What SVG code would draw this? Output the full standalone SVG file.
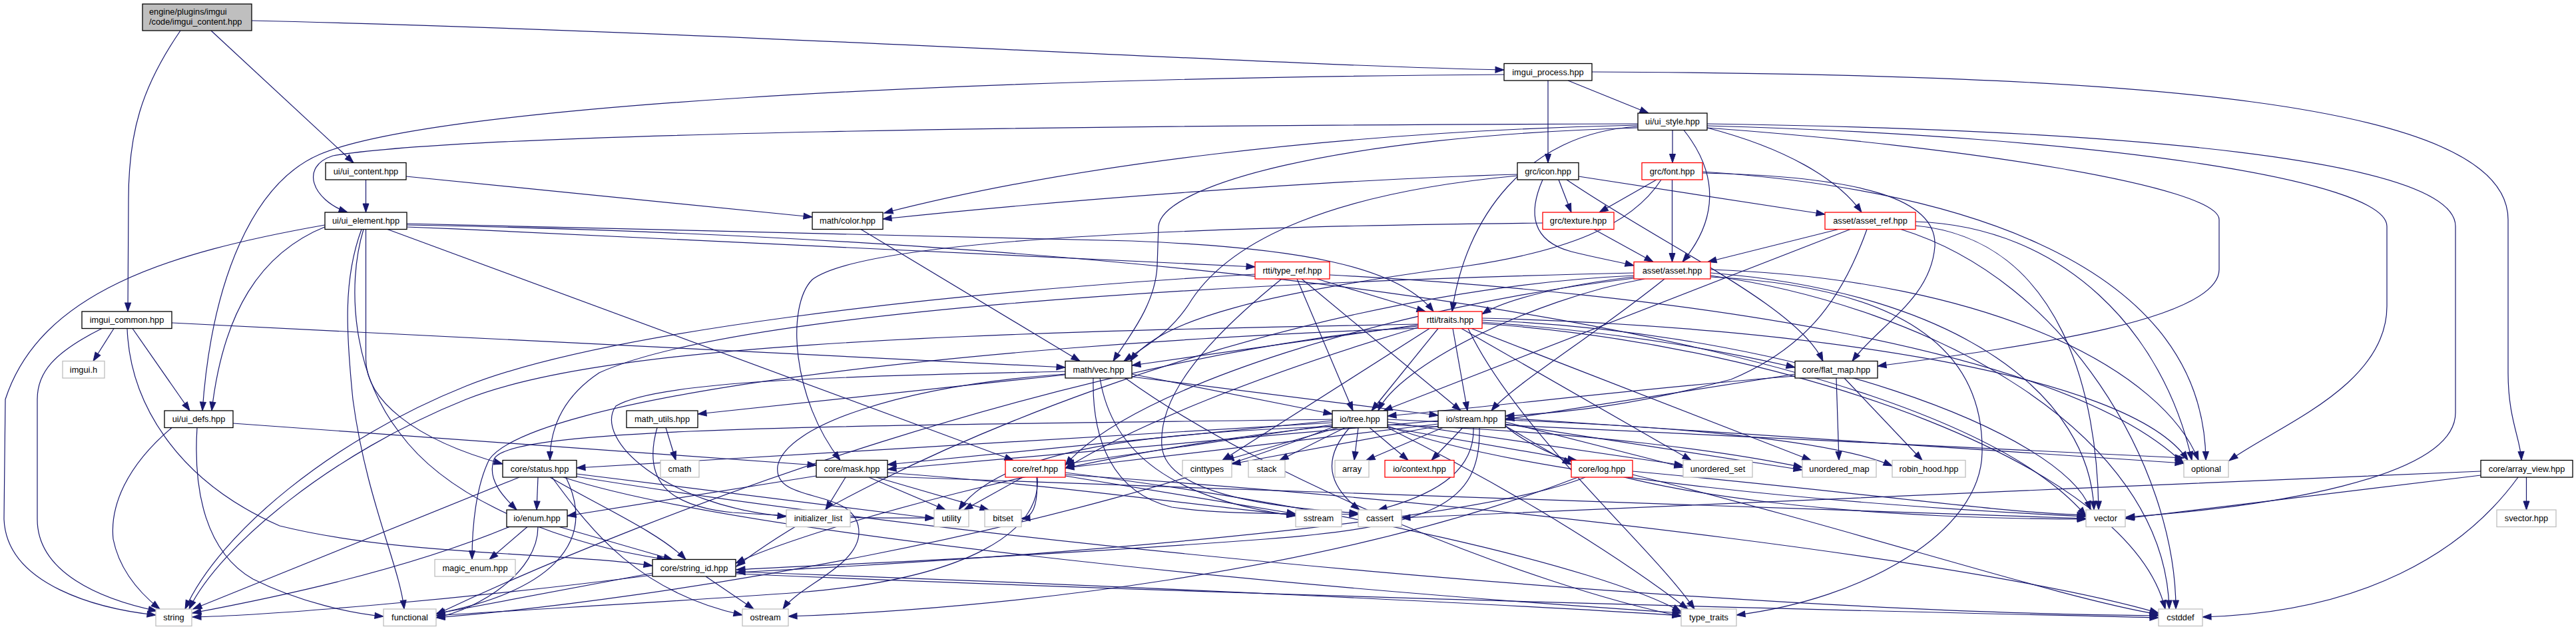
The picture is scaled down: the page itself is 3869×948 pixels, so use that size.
<svg xmlns="http://www.w3.org/2000/svg" width="3869" height="948" viewBox="0 0 3869 948">
<style>
.node rect{fill:#fff;stroke:#000;stroke-width:1.3}
.red rect{stroke:#ff0000}
.ext rect{stroke:#bfbfbf}
.root rect{fill:#bfbfbf}
.node text{font-family:"Liberation Sans",Arial,Helvetica,sans-serif;font-size:12.8px;fill:#000;text-anchor:middle}
.root text{text-anchor:start}
#edges path{fill:none;stroke:#191970;stroke-width:1.2;marker-end:url(#a)}
</style>
<defs>
<marker id="a" markerUnits="userSpaceOnUse" markerWidth="14" markerHeight="10" refX="13" refY="4.5" orient="auto" overflow="visible">
<path d="M0,0 L13,4.5 L0,9 z" fill="#191970" stroke="#191970" stroke-width="1"/>
</marker>
</defs>
<rect width="3869" height="948" fill="#fff"/>
<g id="edges">
<path d="M378,31 C1100,48 1900,98 2259,105"/>
<path d="M317,46 L531,244.5"/>
<path d="M271,46 C212,132 193,200 193,300 L192,468"/>
<path d="M2355,121 L2476,170"/>
<path d="M2325,121 L2325,244.5"/>
<path d="M2391,108 C3200,112 3767,150 3767,330 L3767,560 C3767,630 3786,660 3787,691.5"/>
<path d="M2259,112 C1400,118 650,160 480,232 C380,275 318,420 304,617"/>
<path d="M2512,195.5 L2512,244.5"/>
<path d="M2564,192 C2680,222 2760,268 2796,319"/>
<path d="M2529,195.5 C2582,262 2580,330 2527,393.5"/>
<path d="M2460,188 C2000,198 1600,250 1328,320"/>
<path d="M2460,192 C2000,205 1745,280 1740,340 L1738,400 C1735,460 1692,510 1672,542.5"/>
<path d="M2460,190 C2290,200 2200,330 2181,468"/>
<path d="M2460,186 C1600,188 700,200 500,234 C450,250 468,300 522,319"/>
<path d="M2564,186 C3200,195 3688,240 3688,340 L3688,620 C3688,720 3400,762 3193,777"/>
<path d="M2564,189 C3150,205 3585,270 3585,340 L3585,460 C3585,580 3420,640 3348,692"/>
<path d="M2564,192 C2950,220 3333,280 3333,330 L3333,405 C3333,480 3050,520 2820,550"/>
<path d="M549.5,270 L549.5,319"/>
<path d="M610,265 L1220,326"/>
<path d="M2279,262 C2000,270 1600,300 1326,329"/>
<path d="M2279,264 C2000,290 1850,360 1790,450 C1760,500 1720,520 1688,542.5"/>
<path d="M2341,270 L2360,319"/>
<path d="M2371,265 L2741,322"/>
<path d="M2317,270 C2295,320 2300,362 2360,378 C2400,388 2430,393 2454,399"/>
<path d="M2353,270 C2500,370 2700,460 2738,542.5"/>
<path d="M2488,270 L2402,319"/>
<path d="M2511.5,270 L2511.5,393.5"/>
<path d="M2557,260 C2800,265 2910,300 2906,370 C2900,450 2820,490 2782,542.5"/>
<path d="M2495,270 C2450,340 2350,378 2200,400 C1900,440 1740,480 1698,542.5"/>
<path d="M2557,258 C2900,280 3310,380 3313,691.5"/>
<path d="M490,340 C390,380 335,470 318,617"/>
<path d="M488,338 C250,380 60,440 8,600 L6,780 C10,880 150,915 234,924"/>
<path d="M543,344.5 C515,420 520,500 530,600 C550,750 600,850 607,915"/>
<path d="M549.5,344.5 L549.5,540 C550,600 620,660 755,697"/>
<path d="M546,344.5 C520,430 530,560 600,650 C680,760 860,820 1000,840.5"/>
<path d="M582,344.5 L1522,691.5"/>
<path d="M611,341 C1100,360 1600,385 1885,401"/>
<path d="M611,336 C1100,345 1500,355 1700,362 C1950,372 2100,400 2153,468"/>
<path d="M611,338 C1800,360 2900,500 3133,775"/>
<path d="M1293,344.5 L1622,542.5"/>
<path d="M2394,344.5 L2483,393.5"/>
<path d="M2317,335 C1800,340 1300,360 1220,420 C1180,460 1190,600 1262,691.5"/>
<path d="M2761,344.5 L2565,393.5"/>
<path d="M2779,344.5 L2078,617"/>
<path d="M2804,344.5 C2770,440 2720,520 2600,570 C2450,610 2350,620 2261,625"/>
<path d="M2877,333 C3100,340 3250,500 3292,691.5"/>
<path d="M2877,339 C3100,360 3150,600 3152,766"/>
<path d="M2855,344.5 C3100,420 3268,700 3268,915"/>
<path d="M1978,419 L2141,468"/>
<path d="M1885,412 C1400,440 900,500 700,580 C500,660 330,800 278,915"/>
<path d="M1948,419 L2032,617"/>
<path d="M1955,419 L2194,617"/>
<path d="M1925,419 C1800,520 1740,600 1745,670 C1750,740 1900,762 2040,771"/>
<path d="M1997,413 C2500,440 3100,520 3280,697"/>
<path d="M2454,416 C2350,428 2260,450 2226,472"/>
<path d="M2454,414 C1900,440 1300,700 1106,851"/>
<path d="M2470,419 C2300,450 2100,550 2070,617"/>
<path d="M2500,419 C2400,500 2270,580 2240,617"/>
<path d="M2454,418 C2100,460 1700,580 1600,699"/>
<path d="M2569,405 C3000,420 3250,560 3302,691.5"/>
<path d="M2569,410 C2950,440 3140,600 3145,766"/>
<path d="M2569,416 C2850,430 2980,520 2977,680 C2975,800 2800,900 2608,924"/>
<path d="M2569,414 C2900,460 3252,650 3258,915"/>
<path d="M2454,410 C1800,425 1100,470 900,560 C840,600 826,650 826,691.5"/>
<path d="M171,493.5 L140,542.5"/>
<path d="M199,493.5 L285,617"/>
<path d="M153,493.5 C80,530 56,560 56,600 L56,780 C56,860 150,900 236,918"/>
<path d="M191,493.5 C195,600 260,720 420,790 C600,835 850,830 980,850"/>
<path d="M258,485 L1600,552"/>
<path d="M2130,488 L1700,549"/>
<path d="M2226,484 C2450,500 2600,530 2696,552"/>
<path d="M2160,493.5 L2060,617"/>
<path d="M2182,493.5 L2204,617"/>
<path d="M2147,493.5 L1836,691.5"/>
<path d="M2130,487 C1400,500 900,520 700,600 C500,680 330,820 284,915"/>
<path d="M2130,490 C1600,540 1000,760 655,923"/>
<path d="M2195,493.5 L2540,691.5"/>
<path d="M2210,493.5 L2720,691.5"/>
<path d="M2226,478 C2700,490 3200,560 3286,691.5"/>
<path d="M2226,481 C2700,500 3100,650 3140,766"/>
<path d="M2205,493.5 C2280,650 2480,820 2545,915"/>
<path d="M2226,486 C2700,520 3200,700 3252,915"/>
<path d="M2130,492 C1900,560 1700,640 1600,704"/>
<path d="M2130,493 C1400,520 800,600 735,690 C715,730 709,790 709,840.5"/>
<path d="M1600,563 L1048,622"/>
<path d="M1700,562 L2001,622"/>
<path d="M1700,566 L2160,624"/>
<path d="M1642,568 C1640,660 1670,740 1760,762 C1850,775 1950,770 2040,773"/>
<path d="M1652,568 C1670,680 1760,750 1946,775"/>
<path d="M1600,562 C1350,580 1180,640 1168,700 C1160,760 1290,730 1290,800 C1290,850 1200,880 1176,915"/>
<path d="M1600,558 C1300,565 990,570 925,610 C890,660 1000,760 1181,776"/>
<path d="M1690,568 C1900,720 2300,880 2525,926"/>
<path d="M2758,568 L2762,691.5"/>
<path d="M2770,568 L2887,691.5"/>
<path d="M2696,565 C2500,580 2250,610 2084,625"/>
<path d="M2696,562 L2261,630"/>
<path d="M350,636 L1226,699"/>
<path d="M258,642.5 C190,700 165,760 170,810 C180,860 215,895 240,915"/>
<path d="M296,642.5 C290,740 310,830 380,870 C450,905 530,922 576,926"/>
<path d="M1000,642.5 L1015,691.5"/>
<path d="M987,642.5 C965,720 1000,760 1100,770 C1250,780 1350,778 1403,778"/>
<path d="M2001,635 L866,703"/>
<path d="M2001,632 L1333,698"/>
<path d="M2001,638 L1600,697"/>
<path d="M2001,640 C1600,680 1200,800 1105,846"/>
<path d="M2010,642.5 L1840,691.5"/>
<path d="M2020,642.5 L1922,691.5"/>
<path d="M2040,642.5 L2034,691.5"/>
<path d="M2057,642.5 L2115,691.5"/>
<path d="M2027,642.5 C1985,690 1995,730 2042,766"/>
<path d="M2001,641 C1700,650 1500,680 1440,766"/>
<path d="M2084,634 L2528,699"/>
<path d="M2084,638 C2400,650 2600,680 2707,702"/>
<path d="M2084,630 L3280,688"/>
<path d="M2084,640 C2300,720 2800,760 3133,776"/>
<path d="M2084,642 L2368,691.5"/>
<path d="M2001,642 C1600,800 1000,900 655,928"/>
<path d="M2084,642.5 C2300,750 2450,850 2535,915"/>
<path d="M2001,630 C1300,640 760,640 742,690 C730,722 760,750 776,766"/>
<path d="M2197,642.5 L2150,691.5"/>
<path d="M2167,642.5 L2052,691.5"/>
<path d="M2213,642.5 C2215,700 2170,740 2070,766"/>
<path d="M2222,642.5 C2225,760 2150,790 1900,810 C1500,840 1200,850 1106,856"/>
<path d="M2261,640 L2360,698"/>
<path d="M2160,632 L1333,705"/>
<path d="M2160,637 L1600,703"/>
<path d="M2261,634 L2528,702"/>
<path d="M2261,637 L2707,706"/>
<path d="M2261,628 L3280,696"/>
<path d="M2261,640 C2400,760 2900,780 3133,780"/>
<path d="M2160,640 L1850,697"/>
<path d="M2261,631 C2500,640 2750,660 2842,700"/>
<path d="M808,717 L806,766"/>
<path d="M826,717 C900,760 990,800 1030,840.5"/>
<path d="M829,717 C890,800 960,890 1115,924"/>
<path d="M780,717 L290,915"/>
<path d="M850,717 C900,820 820,890 655,922"/>
<path d="M866,712 L1403,779"/>
<path d="M846,717 C1100,800 1900,880 2525,921"/>
<path d="M866,716 C1500,820 2600,920 3242,925"/>
<path d="M792,791.5 L735,840.5"/>
<path d="M840,791.5 L1010,840.5"/>
<path d="M765,791.5 C600,860 400,900 289,921"/>
<path d="M808,791.5 C808,860 720,915 655,928"/>
<path d="M1226,715 L852,775"/>
<path d="M1270,717 L1240,766"/>
<path d="M1305,717 L1420,766"/>
<path d="M1316,717 L1485,766"/>
<path d="M1333,710 C1600,730 1800,760 1946,774"/>
<path d="M1333,716 C2000,740 2800,770 3133,779"/>
<path d="M1536,717 L1448,766"/>
<path d="M1557,717 C1560,760 1550,778 1534,779"/>
<path d="M1558,717 C1565,800 1450,870 1200,890 C1000,905 800,915 655,925"/>
<path d="M1600,715 L1946,772"/>
<path d="M1600,710 C2000,760 2400,850 2525,919"/>
<path d="M1600,713 C2300,760 3000,850 3242,921"/>
<path d="M2452,708 C2800,740 3000,770 3133,774"/>
<path d="M2381,717 C2200,790 1500,840 1106,860"/>
<path d="M2452,713 C2800,800 3100,900 3242,923"/>
<path d="M2370,717 C2000,860 1500,915 1184,926"/>
<path d="M3726,714 L3192,779"/>
<path d="M3726,708 C3200,730 2500,760 2105,778"/>
<path d="M3794.5,717 L3794.5,766"/>
<path d="M3782,717 C3700,830 3550,920 3308,927"/>
<path d="M980,861 L655,922"/>
<path d="M980,864 C700,900 400,925 289,927"/>
<path d="M1060,866 L1132,915"/>
<path d="M1105,859 C1700,880 2300,910 2525,925"/>
<path d="M1105,862 C2000,900 2900,920 3242,928"/>
</g>
<g id="n_imgui_content" class="node root"><rect x="214" y="6" width="164" height="40"/><text x="224" y="22">engine/plugins/imgui</text><text x="224" y="37">/code/imgui_content.hpp</text></g>
<g id="n_imgui_process" class="node"><rect x="2259" y="95.5" width="132" height="25.5"/><text x="2325" y="112.5">imgui_process.hpp</text></g>
<g id="n_ui_style" class="node"><rect x="2460" y="170" width="104" height="25.5"/><text x="2512" y="187">ui/ui_style.hpp</text></g>
<g id="n_ui_content" class="node"><rect x="489" y="244.5" width="121" height="25.5"/><text x="549.5" y="261.5">ui/ui_content.hpp</text></g>
<g id="n_icon" class="node"><rect x="2279" y="244.5" width="92" height="25.5"/><text x="2325" y="261.5">grc/icon.hpp</text></g>
<g id="n_font" class="node red"><rect x="2466" y="244.5" width="91" height="25.5"/><text x="2511.5" y="261.5">grc/font.hpp</text></g>
<g id="n_ui_element" class="node"><rect x="488" y="319" width="123" height="25.5"/><text x="549.5" y="336">ui/ui_element.hpp</text></g>
<g id="n_color" class="node"><rect x="1220" y="319" width="106" height="25.5"/><text x="1273" y="336">math/color.hpp</text></g>
<g id="n_texture" class="node red"><rect x="2317" y="319" width="107" height="25.5"/><text x="2370.5" y="336">grc/texture.hpp</text></g>
<g id="n_asset_ref" class="node red"><rect x="2741" y="319" width="136" height="25.5"/><text x="2809" y="336">asset/asset_ref.hpp</text></g>
<g id="n_type_ref" class="node red"><rect x="1885" y="393.5" width="112" height="25.5"/><text x="1941" y="410.5">rtti/type_ref.hpp</text></g>
<g id="n_asset" class="node red"><rect x="2454" y="393.5" width="115" height="25.5"/><text x="2511.5" y="410.5">asset/asset.hpp</text></g>
<g id="n_imgui_common" class="node"><rect x="123" y="468" width="135" height="25.5"/><text x="190.5" y="485">imgui_common.hpp</text></g>
<g id="n_traits" class="node red"><rect x="2130" y="468" width="96" height="25.5"/><text x="2178" y="485">rtti/traits.hpp</text></g>
<g id="n_imgui_h" class="node ext"><rect x="94" y="542.5" width="63" height="25.5"/><text x="125.5" y="559.5">imgui.h</text></g>
<g id="n_vec" class="node"><rect x="1600" y="542.5" width="100" height="25.5"/><text x="1650" y="559.5">math/vec.hpp</text></g>
<g id="n_flat_map" class="node"><rect x="2696" y="542.5" width="124" height="25.5"/><text x="2758" y="559.5">core/flat_map.hpp</text></g>
<g id="n_ui_defs" class="node"><rect x="247" y="617" width="103" height="25.5"/><text x="298.5" y="634">ui/ui_defs.hpp</text></g>
<g id="n_math_utils" class="node"><rect x="941" y="617" width="107" height="25.5"/><text x="994.5" y="634">math_utils.hpp</text></g>
<g id="n_tree" class="node"><rect x="2001" y="617" width="83" height="25.5"/><text x="2042.5" y="634">io/tree.hpp</text></g>
<g id="n_stream" class="node"><rect x="2160" y="617" width="101" height="25.5"/><text x="2210.5" y="634">io/stream.hpp</text></g>
<g id="n_status" class="node"><rect x="755" y="691.5" width="111" height="25.5"/><text x="810.5" y="708.5">core/status.hpp</text></g>
<g id="n_cmath" class="node ext"><rect x="992" y="691.5" width="58" height="25.5"/><text x="1021" y="708.5">cmath</text></g>
<g id="n_mask" class="node"><rect x="1226" y="691.5" width="107" height="25.5"/><text x="1279.5" y="708.5">core/mask.hpp</text></g>
<g id="n_ref" class="node red"><rect x="1510" y="691.5" width="90" height="25.5"/><text x="1555" y="708.5">core/ref.hpp</text></g>
<g id="n_cinttypes" class="node ext"><rect x="1776" y="691.5" width="74" height="25.5"/><text x="1813" y="708.5">cinttypes</text></g>
<g id="n_stack" class="node ext"><rect x="1875" y="691.5" width="55" height="25.5"/><text x="1902.5" y="708.5">stack</text></g>
<g id="n_array" class="node ext"><rect x="2005" y="691.5" width="51" height="25.5"/><text x="2030.5" y="708.5">array</text></g>
<g id="n_context" class="node red"><rect x="2080" y="691.5" width="104" height="25.5"/><text x="2132" y="708.5">io/context.hpp</text></g>
<g id="n_log" class="node red"><rect x="2360" y="691.5" width="92" height="25.5"/><text x="2406" y="708.5">core/log.hpp</text></g>
<g id="n_unordered_set" class="node ext"><rect x="2528" y="691.5" width="104" height="25.5"/><text x="2580" y="708.5">unordered_set</text></g>
<g id="n_unordered_map" class="node ext"><rect x="2707" y="691.5" width="111" height="25.5"/><text x="2762.5" y="708.5">unordered_map</text></g>
<g id="n_robin_hood" class="node ext"><rect x="2842" y="691.5" width="110" height="25.5"/><text x="2897" y="708.5">robin_hood.hpp</text></g>
<g id="n_optional" class="node ext"><rect x="3280" y="691.5" width="67" height="25.5"/><text x="3313.5" y="708.5">optional</text></g>
<g id="n_array_view" class="node"><rect x="3726" y="691.5" width="138" height="25.5"/><text x="3795" y="708.5">core/array_view.hpp</text></g>
<g id="n_enum" class="node"><rect x="761" y="766" width="91" height="25.5"/><text x="806.5" y="783">io/enum.hpp</text></g>
<g id="n_initializer_list" class="node ext"><rect x="1181" y="766" width="96" height="25.5"/><text x="1229" y="783">initializer_list</text></g>
<g id="n_utility" class="node ext"><rect x="1403" y="766" width="52" height="25.5"/><text x="1429" y="783">utility</text></g>
<g id="n_bitset" class="node ext"><rect x="1479" y="766" width="55" height="25.5"/><text x="1506.5" y="783">bitset</text></g>
<g id="n_sstream" class="node ext"><rect x="1946" y="766" width="69" height="25.5"/><text x="1980.5" y="783">sstream</text></g>
<g id="n_cassert" class="node ext"><rect x="2040" y="766" width="65" height="25.5"/><text x="2072.5" y="783">cassert</text></g>
<g id="n_vector" class="node ext"><rect x="3133" y="766" width="59" height="25.5"/><text x="3162.5" y="783">vector</text></g>
<g id="n_svector" class="node ext"><rect x="3750" y="766" width="89" height="25.5"/><text x="3794.5" y="783">svector.hpp</text></g>
<g id="n_magic_enum" class="node ext"><rect x="653" y="840.5" width="121" height="25.5"/><text x="713.5" y="857.5">magic_enum.hpp</text></g>
<g id="n_string_id" class="node"><rect x="980" y="840.5" width="125" height="25.5"/><text x="1042.5" y="857.5">core/string_id.hpp</text></g>
<g id="n_string" class="node ext"><rect x="234" y="915" width="54" height="25.5"/><text x="261" y="932">string</text></g>
<g id="n_functional" class="node ext"><rect x="576" y="915" width="79" height="25.5"/><text x="615.5" y="932">functional</text></g>
<g id="n_ostream" class="node ext"><rect x="1115" y="915" width="69" height="25.5"/><text x="1149.5" y="932">ostream</text></g>
<g id="n_type_traits" class="node ext"><rect x="2525" y="915" width="83" height="25.5"/><text x="2566.5" y="932">type_traits</text></g>
<g id="n_cstddef" class="node ext"><rect x="3242" y="915" width="66" height="25.5"/><text x="3275" y="932">cstddef</text></g>
</svg>
